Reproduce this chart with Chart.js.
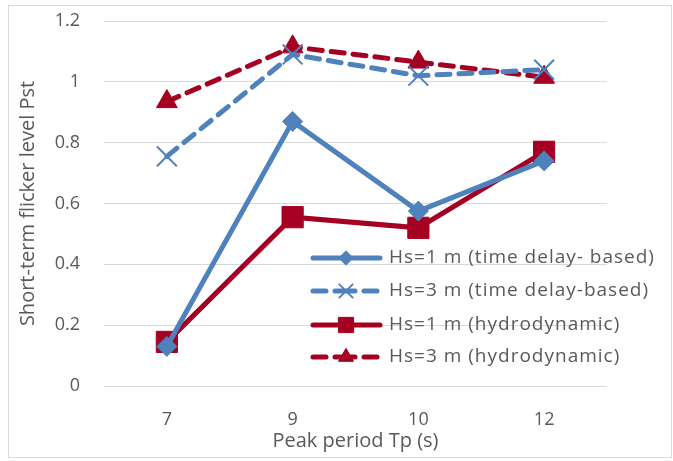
<!DOCTYPE html>
<html>
<head>
<meta charset="utf-8">
<script src="https://cdn.jsdelivr.net/npm/chart.js@4"></script>
<style>
  html, body { margin: 0; padding: 0; background: #fff; }
  #wrap { width: 673px; height: 461px; }
</style>
</head>
<body>
<div id="wrap"><canvas id="flicker" width="673" height="461"></canvas></div>
<script>
var periods = ['7', '9', '10', '12'];
var hs1Delay = [0.13, 0.87, 0.575, 0.74];
var hs3Delay = [0.755, 1.09, 1.02, 1.04];
var hs1Hydro = [0.145, 0.555, 0.52, 0.77];
var hs3Hydro = [0.935, 1.115, 1.065, 1.015];
var yTicks = [0, 0.2, 0.4, 0.6, 0.8, 1, 1.2];

var blue = '#4f81bd';
var red = '#a50021';
var textGrey = '#595959';
var fontFam = '"Open Sans", "Noto Sans", sans-serif';

// legend drawn inside the plot area, bottom right
var insideLegend = {
    id: 'insideLegend',
    afterDatasetsDraw: function (chart) {
        var ctx = chart.ctx;
        var rowY = [258, 291, 325, 357];
        chart.data.datasets.forEach(function (ds, i) {
            var y = rowY[i];
            ctx.save();
            ctx.strokeStyle = ds.borderColor;
            ctx.lineWidth = 5;
            ctx.lineCap = 'round';
            ctx.beginPath();
            if (ds.borderDash && ds.borderDash.length) {
                ctx.moveTo(313, y); ctx.lineTo(326, y);
                ctx.moveTo(335, y); ctx.lineTo(355, y);
                ctx.moveTo(364, y); ctx.lineTo(377, y);
            } else {
                ctx.moveTo(313, y); ctx.lineTo(380, y);
            }
            ctx.stroke();
            ctx.restore();
            ctx.save();
            ctx.fillStyle = ds.pointBackgroundColor;
            ctx.strokeStyle = ds.pointBorderColor;
            ctx.lineWidth = ds.pointBorderWidth;
            Chart.helpers.drawPoint(ctx, {
                pointStyle: ds.pointStyle, rotation: 0,
                radius: ds.pointRadius * 0.72, borderWidth: ds.pointBorderWidth
            }, 346, y);
            ctx.restore();
            ctx.save();
            ctx.fillStyle = textGrey;
            ctx.font = '19px ' + fontFam;
            ctx.letterSpacing = '1px';
            ctx.textBaseline = 'middle';
            ctx.fillText(ds.label, 389, y);
            ctx.restore();
        });
    }
};

var outerBorder = {
    id: 'outerBorder',
    afterDraw: function (chart) {
        var ctx = chart.ctx;
        ctx.save();
        ctx.strokeStyle = '#d9d9d9';
        ctx.lineWidth = 1;
        ctx.strokeRect(8.5, 5.5, 663, 452);
        ctx.restore();
    }
};

new Chart(document.getElementById('flicker'), {
    type: 'line',
    data: {
        labels: periods,
        datasets: [
            {
                label: 'Hs=1 m (time delay- based)',
                data: hs1Delay,
                borderColor: blue, backgroundColor: blue,
                borderWidth: 5,
                pointStyle: 'rectRot', pointRadius: 10,
                pointBackgroundColor: blue, pointBorderColor: blue, pointBorderWidth: 1
            },
            {
                label: 'Hs=3 m (time delay-based)',
                data: hs3Delay,
                borderColor: blue, backgroundColor: blue,
                borderWidth: 5, borderDash: [13, 9], borderCapStyle: 'round',
                pointStyle: 'crossRot', pointRadius: 14,
                pointBackgroundColor: blue, pointBorderColor: blue, pointBorderWidth: 2
            },
            {
                label: 'Hs=1 m (hydrodynamic)',
                data: hs1Hydro,
                borderColor: red, backgroundColor: red,
                borderWidth: 5,
                pointStyle: 'rect', pointRadius: 15,
                pointBackgroundColor: red, pointBorderColor: red, pointBorderWidth: 1
            },
            {
                label: 'Hs=3 m (hydrodynamic)',
                data: hs3Hydro,
                borderColor: red, backgroundColor: red,
                borderWidth: 5, borderDash: [13, 9], borderCapStyle: 'round',
                pointStyle: 'triangle', pointRadius: 12,
                pointBackgroundColor: red, pointBorderColor: red, pointBorderWidth: 1
            }
        ]
    },
    options: {
        responsive: false,
        animation: false,
        layout: { autoPadding: false, padding: { left: 16, right: 66, top: 21, bottom: 8 } },
        plugins: {
            legend: { display: false },
            tooltip: { enabled: false }
        },
        scales: {
            x: {
                offset: true,
                grid: { display: false },
                border: { display: false },
                ticks: { color: textGrey, font: { family: fontFam, size: 18 }, padding: 15 },
                title: { display: true, text: 'Peak period Tp (s)', color: textGrey,
                    font: { family: fontFam, size: 20 }, padding: { top: 0, bottom: 0 } },
                afterFit: function (s) { s.height = 67; }
            },
            y: {
                min: 0, max: 1.2,
                afterBuildTicks: function (s) { s.ticks = yTicks.map(function (v) { return { value: v }; }); },
                grid: { color: '#d9d9d9', lineWidth: 1, drawTicks: true, tickLength: 24, tickColor: 'rgba(0,0,0,0)' },
                border: { display: false },
                ticks: { color: textGrey, font: { family: fontFam, size: 18 }, padding: 0,
                    callback: function (v) { return String(v); } },
                title: { display: true, text: 'Short-term flicker level Pst', color: textGrey,
                    font: { family: fontFam, size: 20 }, padding: { top: 0, bottom: 4 } },
                afterFit: function (s) { s.width = 88; }
            }
        }
    },
    plugins: [insideLegend, outerBorder]
});
</script>
</body>
</html>
